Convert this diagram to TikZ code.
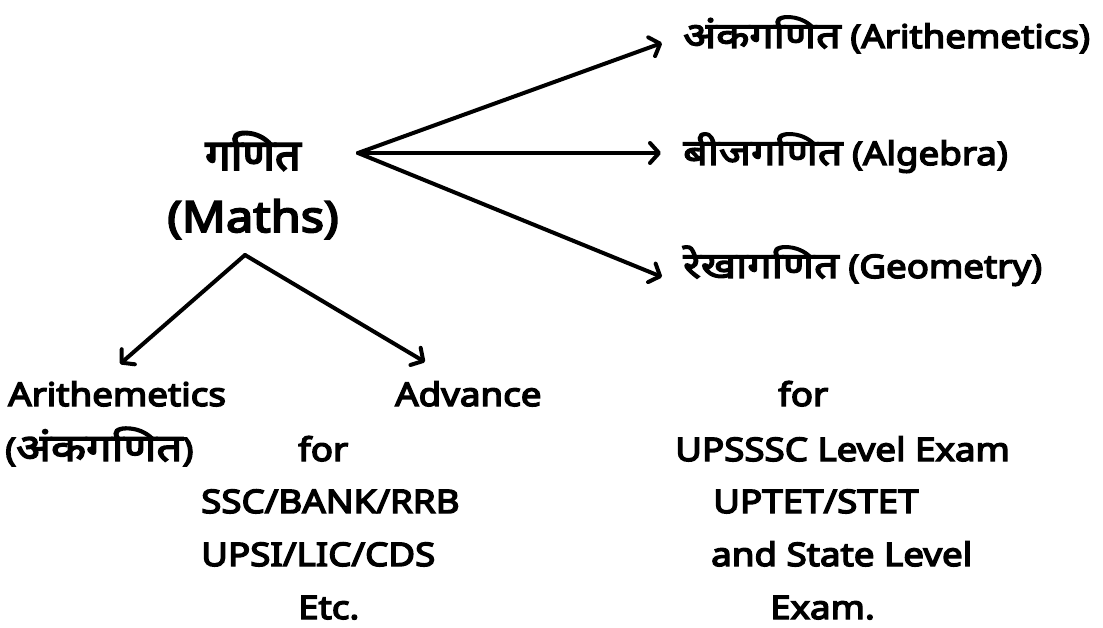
\documentclass[tikz,border=0pt]{standalone}
\usepackage{fontspec}
\setmainfont{Noto Sans}[FakeBold=4.5,FakeStretch=1.13]
\newfontfamily\dev{Noto Sans}[Script=Devanagari,FakeBold=3.8,FakeStretch=1.2]
\newfontfamily\devt{Noto Sans}[Script=Devanagari,FakeBold=4.2,FakeStretch=1.05]
\newcommand\dv[1]{{\dev\fontsize{36}{40}\selectfont #1}}
\newcommand\dvb[1]{{\dev\fontsize{38}{42}\selectfont #1}}
\usetikzlibrary{arrows.meta}
\begin{document}
\begin{tikzpicture}[x=1pt,y=-1pt,
  arr/.style={line width=4pt, line cap=round, line join=round,
    -{Straight Barb[length=9pt,width=20pt,round]}},
  lbl/.style={anchor=base west, inner sep=0pt, font=\fontsize{32.5}{38}\selectfont},
  ttl/.style={anchor=base, inner sep=0pt, font=\fontsize{43}{52}\selectfont}]
\useasboundingbox (0,0) rectangle (1103,628);

% title
\node[ttl] (ganit) at (253,170) {\devt गणित};
\node[ttl] (maths) at (253,232) {(Maths)};

% right branches
\coordinate (o1) at (358,153);
\coordinate (t1) at (662,43);
\coordinate (t2) at (661,153);
\coordinate (t3) at (662,277);
\node[lbl] (ank) at (683,48) {\dv{अंकगणित} (Arithemetics)};
\node[lbl] (bij) at (683,165) {\dv{बीजगणित} (Algebra)};
\node[lbl] (rekha) at (683,278) {\dv{रेखागणित} (Geometry)};
\draw[arr] (o1) -- (t1);
\draw[arr] (o1) -- (t2);
\draw[arr] (o1) -- (t3);

% down branches
\coordinate (o2) at (245,255);
\coordinate (d1) at (120,364);
\coordinate (d2) at (425,362);
\draw[arr] (o2) -- (d1);
\draw[arr] (o2) -- (d2);

% bottom left
\node[lbl] (arith) at (8,406) {Arithemetics};
\node[lbl] (arithh) at (5,461) {(\dvb{अंकगणित})};
\node[lbl] (adv) at (395,406) {Advance};
\node[lbl] (for1) at (298,461) {for};
\node[lbl] (ssc) at (201,513) {SSC/BANK/RRB};
\node[lbl] (upsi) at (201,566) {UPSI/LIC/CDS};
\node[lbl] (etc) at (298,619) {Etc.};

% bottom right
\node[lbl] (for2) at (778,406) {for};
\node[lbl] (upsssc) at (675,461) {UPSSSC Level Exam};
\node[lbl] (uptet) at (713,513) {UPTET/STET};
\node[lbl] (state) at (711,566) {and State Level};
\node[lbl] (exam) at (770,619) {Exam.};
\end{tikzpicture}
\end{document}
